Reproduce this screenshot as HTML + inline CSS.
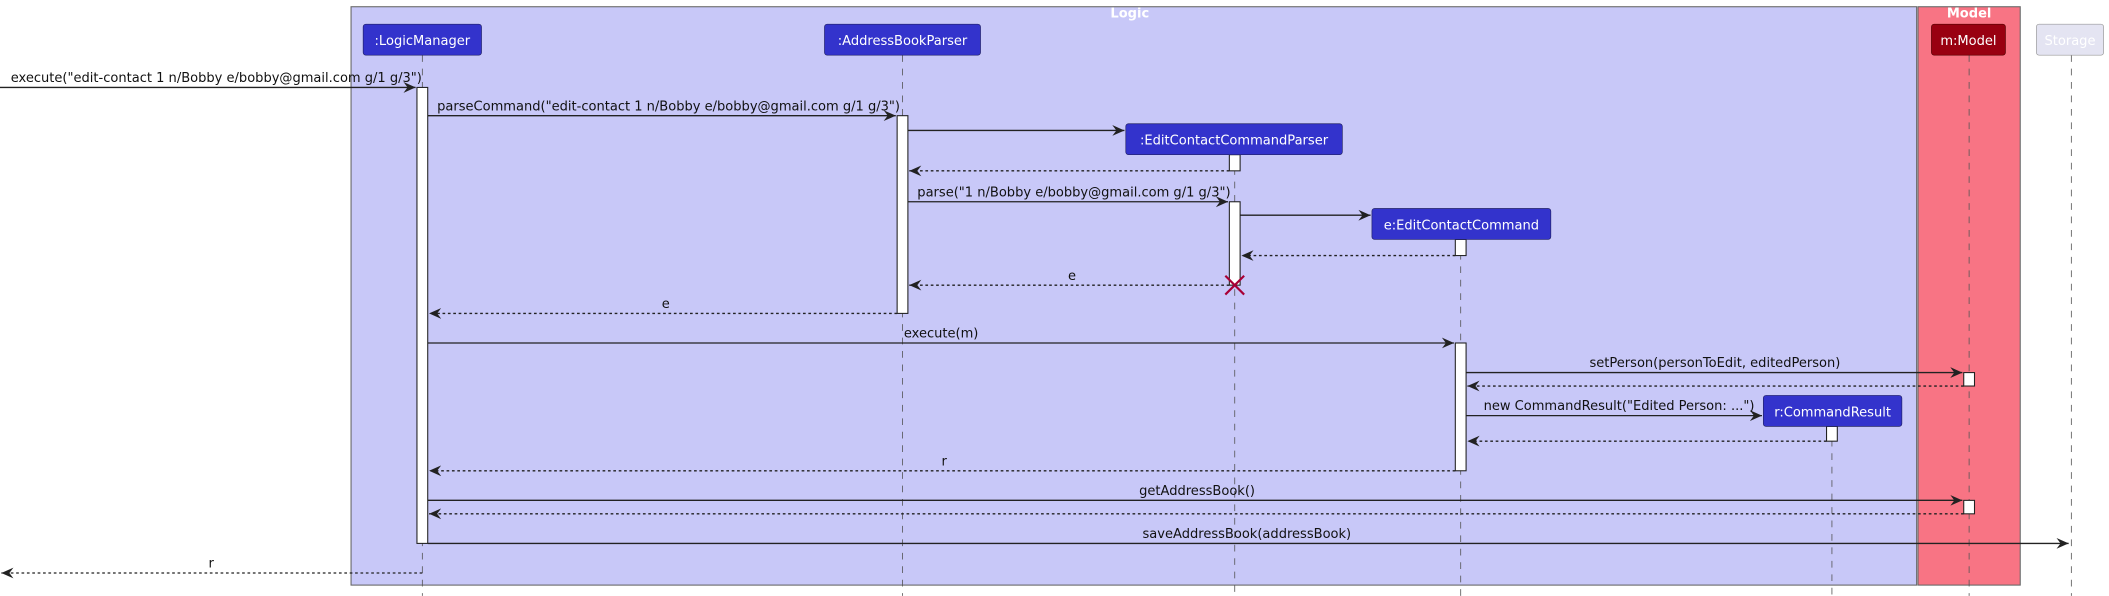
<!DOCTYPE html>
<html><head><meta charset="utf-8"><style>
html,body{margin:0;padding:0;background:#fff;}
svg{display:block;}
text{font-family:"DejaVu Sans","Liberation Sans",sans-serif;font-size:9.7px;fill:#111;}
.w{fill:#fff;}
.ll{stroke:#555;stroke-width:0.6;stroke-dasharray:5,5;}
.m{stroke:#222;stroke-width:1;fill:none;}
.d{stroke:#222;stroke-width:1;fill:none;stroke-dasharray:2,2;}
.act{fill:#fff;stroke:#222;stroke-width:0.8;}
.p{fill:#3333CC;stroke:#222266;stroke-width:0.5;}
</style></head><body>
<svg width="2109" height="596" viewBox="0 0 1568 443.1" xmlns="http://www.w3.org/2000/svg">
<defs>
<marker id="a" markerWidth="10" markerHeight="10" refX="9" refY="5" orient="auto" markerUnits="userSpaceOnUse"><path d="M0,1 L9,5 L0,9 L3,5 Z" fill="#222"/></marker>
<marker id="o" markerWidth="10" markerHeight="10" refX="9" refY="5" orient="auto" markerUnits="userSpaceOnUse"><path d="M0,1 L9,5 L0,9 L3,5 Z" fill="#222"/></marker>
</defs>
<rect x="261" y="5" width="1164" height="430" fill="#C8C8F8" stroke="#666" stroke-width="0.8"/>
<text x="840" y="13" class="w" text-anchor="middle" font-weight="bold">Logic</text>
<rect x="1426" y="5" width="76" height="430" fill="#F87484" stroke="#666" stroke-width="0.8"/>
<text x="1464" y="13" class="w" text-anchor="middle" font-weight="bold">Model</text>

<line class="ll" x1="314" y1="41" x2="314" y2="443"/>
<line class="ll" x1="671" y1="41" x2="671" y2="443"/>
<line class="ll" x1="918" y1="115" x2="918" y2="443"/>
<line class="ll" x1="1086" y1="178" x2="1086" y2="443"/>
<line class="ll" x1="1362" y1="317" x2="1362" y2="443"/>
<line class="ll" x1="1464" y1="41" x2="1464" y2="443"/>
<line class="ll" x1="1540" y1="41" x2="1540" y2="443"/>

<rect class="p" x="270" y="18" width="88" height="23" rx="2"/><text class="w" x="314" y="33.5" text-anchor="middle">:LogicManager</text>
<rect class="p" x="613" y="18" width="116" height="23" rx="2"/><text class="w" x="671" y="33.5" text-anchor="middle">:AddressBookParser</text>
<rect x="1436" y="18" width="55" height="23" rx="2" fill="#990011" stroke="#550000" stroke-width="0.5"/><text class="w" x="1463.5" y="33.5" text-anchor="middle">m:Model</text>
<rect x="1514" y="18" width="50" height="23" rx="2" fill="#E4E4F2" stroke="#999" stroke-width="0.5"/><text class="w" x="1539" y="33.5" text-anchor="middle">Storage</text>

<rect class="act" x="310" y="65" width="8" height="339"/>
<rect class="act" x="667" y="86" width="8" height="147"/>
<rect class="act" x="914" y="115" width="8" height="12"/>
<rect class="act" x="914" y="150" width="8" height="62"/>
<rect class="act" x="1082" y="178" width="8" height="12"/>
<rect class="act" x="1082" y="255" width="8" height="95"/>
<rect class="act" x="1460" y="277" width="8" height="10"/>
<rect class="act" x="1358" y="317" width="8" height="11"/>
<rect class="act" x="1460" y="372" width="8" height="10"/>

<rect class="p" x="837" y="92" width="161" height="23" rx="2"/><text class="w" x="917.5" y="107.5" text-anchor="middle">:EditContactCommandParser</text>
<rect class="p" x="1020" y="155" width="133" height="23" rx="2"/><text class="w" x="1086.5" y="170.5" text-anchor="middle">e:EditContactCommand</text>
<rect class="p" x="1311" y="294" width="103" height="23" rx="2"/><text class="w" x="1362.5" y="309.5" text-anchor="middle">r:CommandResult</text>

<line class="m" x1="0" y1="65" x2="309" y2="65" marker-end="url(#a)"/>
<text x="8" y="61">execute("edit-contact 1 n/Bobby e/bobby@gmail.com g/1 g/3")</text>
<line class="m" x1="318" y1="86" x2="666" y2="86" marker-end="url(#a)"/>
<text x="325" y="82">parseCommand("edit-contact 1 n/Bobby e/bobby@gmail.com g/1 g/3")</text>
<line class="m" x1="675" y1="97" x2="836" y2="97" marker-end="url(#a)"/>
<line class="d" x1="914" y1="127" x2="676" y2="127" marker-end="url(#o)"/>
<line class="m" x1="675" y1="150" x2="913" y2="150" marker-end="url(#a)"/>
<text x="682" y="146">parse("1 n/Bobby e/bobby@gmail.com g/1 g/3")</text>
<line class="m" x1="922" y1="160" x2="1019" y2="160" marker-end="url(#a)"/>
<line class="d" x1="1082" y1="190" x2="923" y2="190" marker-end="url(#o)"/>
<line class="d" x1="914" y1="212" x2="676" y2="212" marker-end="url(#o)"/>
<text x="797" y="208" text-anchor="middle">e</text>
<path d="M911,205 L925,219 M925,205 L911,219" stroke="#A80036" stroke-width="1.6"/>
<line class="d" x1="667" y1="233" x2="319" y2="233" marker-end="url(#o)"/>
<text x="495" y="229" text-anchor="middle">e</text>
<line class="m" x1="318" y1="255" x2="1081" y2="255" marker-end="url(#a)"/>
<text x="672" y="251">execute(m)</text>
<line class="m" x1="1090" y1="277" x2="1459" y2="277" marker-end="url(#a)"/>
<text x="1275" y="273" text-anchor="middle">setPerson(personToEdit, editedPerson)</text>
<line class="d" x1="1460" y1="287" x2="1091" y2="287" marker-end="url(#o)"/>
<line class="m" x1="1090" y1="309" x2="1310" y2="309" marker-end="url(#a)"/>
<text x="1103" y="305">new CommandResult("Edited Person: ...")</text>
<line class="d" x1="1358" y1="328" x2="1091" y2="328" marker-end="url(#o)"/>
<line class="d" x1="1082" y1="350" x2="319" y2="350" marker-end="url(#o)"/>
<text x="702" y="346" text-anchor="middle">r</text>
<line class="m" x1="318" y1="372" x2="1459" y2="372" marker-end="url(#a)"/>
<text x="890" y="368" text-anchor="middle">getAddressBook()</text>
<line class="d" x1="1460" y1="382" x2="319" y2="382" marker-end="url(#o)"/>
<line class="m" x1="318" y1="404" x2="1538" y2="404" marker-end="url(#a)"/>
<text x="927" y="400" text-anchor="middle">saveAddressBook(addressBook)</text>
<line class="d" x1="314" y1="426" x2="1" y2="426" marker-end="url(#o)"/>
<text x="157" y="422" text-anchor="middle">r</text>
</svg>
</body></html>
